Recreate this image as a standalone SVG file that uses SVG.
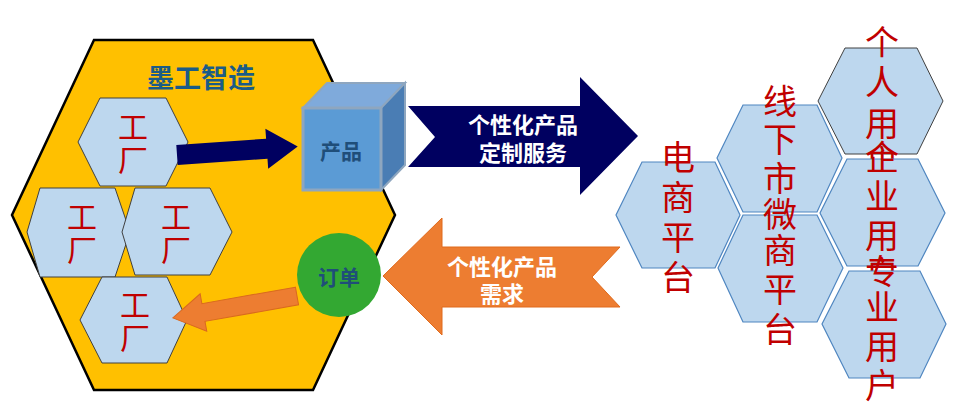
<svg xmlns="http://www.w3.org/2000/svg" width="969" height="415" viewBox="0 0 969 415">
<style>
.hex{fill:#BDD7EE;stroke:#404040;stroke-width:1}
.rhex{fill:#BDD7EE;stroke:#4F86C0;stroke-width:1.2}
.red{font-family:"Noto Sans CJK SC",sans-serif;fill:#C00000;text-anchor:middle;dominant-baseline:central}
.fac{font-size:30px}
.plat{font-size:34px}
.lbl{font-family:"Noto Sans CJK SC",sans-serif;font-weight:bold;text-anchor:middle;dominant-baseline:central}
.wh{fill:#FFFFFF;font-size:22px}
.db{fill:#1F4E79;font-size:21px}
</style>
<rect width="969" height="415" fill="#FFFFFF"/>
<g id="mogong">
<polygon points="94,40 313,40 395,215 313,390 94,390 12,215" fill="#FFC000" stroke="#000000" stroke-width="2.5"/>
<text x="201" y="76" class="lbl" fill="#1B5C87" font-size="27">墨工智造</text>
</g>
<g id="factory1">
<polygon class="hex" points="100,98 166,98 188,142 166,186 100,186 78,142"/>
<text class="red fac"><tspan x="133" y="125">工</tspan><tspan x="133" y="158">厂</tspan></text>
</g>
<g id="factory2">
<polygon class="hex" points="40,188 115,188 130,232 115,277 40,277 27,232"/>
<text class="red fac"><tspan x="82" y="215">工</tspan><tspan x="82" y="248">厂</tspan></text>
</g>
<g id="factory3">
<polygon class="hex" points="135,188 210,188 232,232 210,275 135,275 122,232"/>
<text class="red fac"><tspan x="176" y="215">工</tspan><tspan x="176" y="248">厂</tspan></text>
</g>
<g id="factory4">
<polygon class="hex" points="102,277 167,277 187,320 167,363 102,363 80,320"/>
<text class="red fac"><tspan x="135" y="303">工</tspan><tspan x="135" y="336">厂</tspan></text>
</g>
<g id="connectors">
<polygon transform="translate(177,155) rotate(-4)" points="0,-10 90,-10 90,-20 121,0 90,20 90,10 0,10" fill="#000060"/>
<polygon transform="translate(297,296) rotate(-10)" points="0,-9 -95,-9 -95,-19 -126,0 -95,19 -95,9 0,9" fill="#ED7D31" stroke="#D9691F" stroke-width="1"/>
</g>
<g id="product">
<polygon points="303,108 327,83 405,83 381,108" fill="#7FAADB" stroke="#8EA6BF" stroke-width="2"/>
<polygon points="381,108 405,83 405,165 381,190" fill="#4A7DB4" stroke="#8EA6BF" stroke-width="2"/>
<rect x="303" y="108" width="78" height="82" fill="#5B9BD5" stroke="#8EA6BF" stroke-width="3"/>
<text x="341" y="150" class="lbl db">产品</text>
</g>
<g id="order">
<circle cx="339" cy="275" r="42" fill="#33A832"/>
<text x="339" y="276" class="lbl db">订单</text>
</g>
<g id="service">
<polygon points="408,106 580,106 580,77 638,136 580,195 580,167 408,167 435,137" fill="#000060"/>
<text class="lbl wh"><tspan x="523" y="123">个性化产品</tspan><tspan x="523" y="151">定制服务</tspan></text>
</g>
<g id="demand">
<polygon points="383,276 442,218 442,247 620,247 592,277 620,307 442,307 442,335" fill="#ED7D31" stroke="#E06A1C" stroke-width="1"/>
<text class="lbl wh"><tspan x="502" y="265">个性化产品</tspan><tspan x="502" y="292">需求</tspan></text>
</g>
<g id="ecommerce">
<polygon class="rhex" points="642,162 715,162 740,215 715,268 642,268 616,215"/>
<text class="red plat"><tspan x="678" y="155">电</tspan><tspan x="678" y="195">商</tspan><tspan x="678" y="235">平</tspan><tspan x="678" y="275">台</tspan></text>
</g>
<g id="offline">
<polygon class="rhex" points="743,105 817,105 842,158 817,212 743,212 717,158"/>
<polygon class="rhex" points="743,215 817,215 843,268 817,322 743,322 718,268"/>
<text class="red plat"><tspan x="780" y="99">线</tspan><tspan x="780" y="137">下</tspan><tspan x="780" y="176">市</tspan><tspan x="780" y="212">微</tspan><tspan x="780" y="248">商</tspan><tspan x="780" y="287">平</tspan><tspan x="780" y="327">台</tspan></text>
</g>
<g id="personal">
<polygon class="hex" points="845,48 917,48 943,101 917,154 845,154 818,101"/>
<text class="red plat"><tspan x="882" y="40">个</tspan><tspan x="882" y="80">人</tspan><tspan x="882" y="121">用</tspan><tspan x="882" y="160">户</tspan></text>
</g>
<g id="enterprise">
<polygon class="rhex" points="847,159 918,159 945,213 918,266 847,266 820,213"/>
<text class="red plat"><tspan x="882" y="155">企</tspan><tspan x="882" y="194">业</tspan><tspan x="882" y="233">用</tspan><tspan x="882" y="271">户</tspan></text>
</g>
<g id="professional">
<polygon class="rhex" points="849,271 920,271 946,324 920,378 849,378 822,324"/>
<text class="red plat"><tspan x="882" y="269">专</tspan><tspan x="882" y="305">业</tspan><tspan x="882" y="344">用</tspan><tspan x="882" y="383">户</tspan></text>
</g>
</svg>
